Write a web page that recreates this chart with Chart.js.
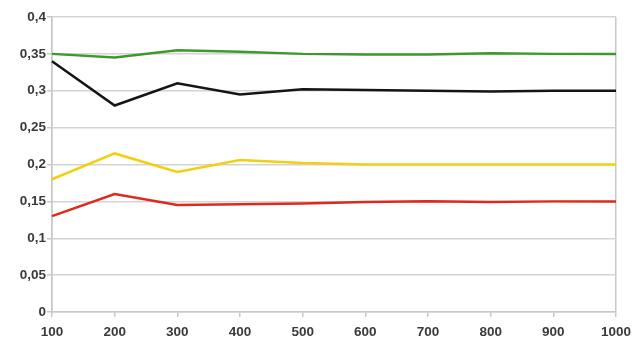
<!DOCTYPE html>
<html lang="en">
<head>
    <meta charset="UTF-8">
    <title>Chart</title>
    <script src="https://cdn.jsdelivr.net/npm/chart.js"></script>
    <style>
      html, body { margin: 0; padding: 0; background: #fff; }
      #wrap { width: 644px; height: 341px; }
    </style>
</head>
<body>
    <div id="wrap"><canvas id="myChart"></canvas></div>

    <script>
      const labels = ['100', '200', '300', '400', '500', '600', '700', '800', '900', '1000'];
      const greenVals  = [0.35, 0.345, 0.355, 0.353, 0.35, 0.349, 0.349, 0.351, 0.35, 0.35];
      const blackVals  = [0.34, 0.28, 0.31, 0.295, 0.302, 0.301, 0.3, 0.299, 0.3, 0.3];
      const yellowVals = [0.18, 0.215, 0.19, 0.206, 0.202, 0.2, 0.2, 0.2, 0.2, 0.2];
      const redVals    = [0.13, 0.16, 0.145, 0.146, 0.147, 0.149, 0.15, 0.149, 0.15, 0.15];

      function serie(data, color) {
          return {
              data: data,
              borderColor: color,
              backgroundColor: color,
              borderWidth: 2.5,
              pointRadius: 0,
              tension: 0,
              fill: false
          };
      }

      const tickFont = { family: 'Liberation Sans', size: 13.5, weight: 'bold' };

      var ctx = document.getElementById('myChart').getContext('2d');
      var myChart = new Chart(ctx, {
          type: 'line',
          data: {
              labels: labels,
              datasets: [
                  serie(greenVals, '#3c9a2c'),
                  serie(blackVals, '#151515'),
                  serie(yellowVals, '#f2cf10'),
                  serie(redVals, '#dc2a1e')
              ]
          },
          options: {
              responsive: true,
              maintainAspectRatio: false,
              animation: false,
              layout: { padding: { top: 17, right: 28, left: 0, bottom: 0 } },
              plugins: { legend: { display: false }, tooltip: { enabled: false } },
              scales: {
                  x: {
                      offset: false,
                      grid: {
                          color: c => (c.index === 0 || c.index === labels.length - 1) ? '#c8c8c8' : 'rgba(0,0,0,0)',
                          tickColor: '#c8c8c8',
                          tickLength: 5,
                          lineWidth: 1.5
                      },
                      border: { color: '#c8c8c8', width: 1.5 },
                      ticks: { color: '#3a3a3a', font: tickFont, maxRotation: 0, padding: 7 },
                      afterFit: s => { s.height = 29; }
                  },
                  y: {
                      min: 0,
                      max: 0.4,
                      grid: { color: '#d4d4d4', tickColor: '#c8c8c8', tickLength: 5, lineWidth: 1.5 },
                      border: { color: '#c8c8c8', width: 1.5 },
                      ticks: {
                          stepSize: 0.05,
                          color: '#3a3a3a',
                          font: tickFont,
                          padding: 1,
                          callback: v => (Math.round(v * 100) / 100).toString().replace('.', ',')
                      },
                      afterFit: s => { s.width = 52; }
                  }
              }
          }
      });
    </script>
</body>
</html>
